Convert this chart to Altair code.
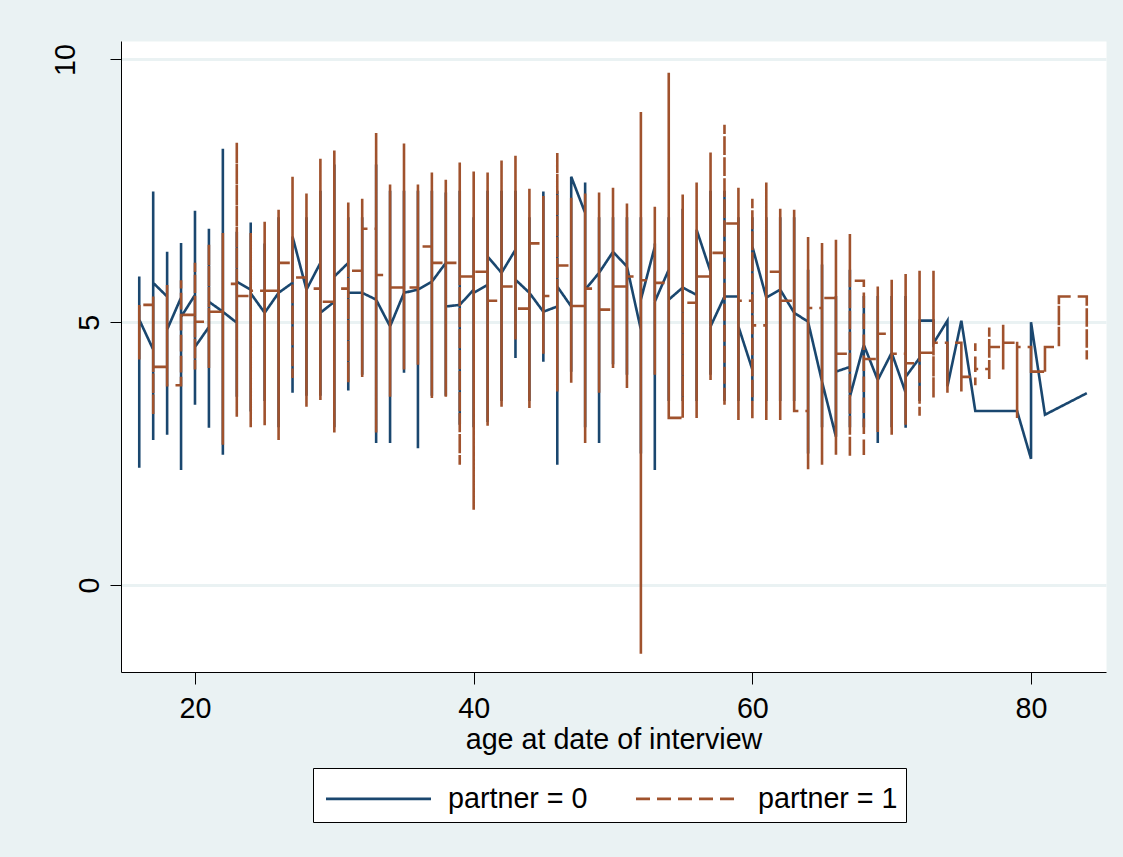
import altair as alt
import pandas as pd

# ---------------- data ----------------
# partner = 0 (solid navy line, straight connections)
ages0 = [16, 17, 18, 19, 20, 21, 22, 23, 24, 25, 26, 27, 28, 29, 30, 31, 32, 33, 34, 35,
         36, 37, 38, 39, 40, 41, 42, 43, 44, 45, 46, 47, 48, 49, 50, 51, 52, 53, 54, 55,
         56, 57, 58, 59, 60, 61, 62, 63, 64, 65, 66, 67, 68, 69, 70, 71, 72, 73, 74, 75,
         76, 77, 78, 79, 80, 81, 84]
b_first = [5.05, 4.48, 5.49, 5.47, 5.52, 4.91, 5.20, 4.99, 5.62, 5.18, 5.56, 5.75, 5.62, 6.13, 5.39, 6.13, 5.56, 5.43, 4.92, 5.56,
           5.62, 5.77, 6.13, 5.33, 5.62, 5.71, 5.94, 6.38, 5.56, 5.20, 5.30, 5.30, 7.08, 5.94, 6.34, 6.06, 4.86, 6.44, 6.00, 5.66,
           5.52, 5.96, 5.49, 5.49, 4.10, 5.47, 5.62, 5.18, 5.01, 3.87, 2.82, 4.15, 4.57, 3.90, 4.42, 3.66, 4.32, 5.03, 5.03, 5.03,
           3.31, 3.31, 3.31, 3.31, 2.40, 3.24, 3.65]
b_lo = [2.23, 2.76, 2.86, 2.19, 3.43, 2.99, 2.48, 3.58, 3.30, 3.50, 3.00, 3.66, 3.60, 3.60, 3.00, 3.70, 4.00, 2.70, 2.70, 4.04,
        2.60, 3.60, 3.60, 3.05, 3.00, 3.10, 3.50, 4.32, 3.50, 4.25, 2.29, 4.06, 3.00, 2.70, 4.20, 4.00, 2.50, 2.19, 3.50, 3.50,
        3.50, 4.00, 3.50, 3.50, 3.50, 3.50, 3.50, 3.50, 2.50, 3.00, 2.82, 3.00, 3.00, 2.70, 3.00, 2.99, 3.50, 4.60, 3.78, 5.03,
        3.31, 3.31, 3.31, 3.31, 2.40, 3.24, 3.65]
b_hi = [5.87, 7.49, 6.34, 6.51, 7.12, 6.78, 8.30, 6.72, 6.90, 6.50, 7.00, 6.63, 7.00, 7.50, 8.00, 7.00, 7.00, 8.00, 7.50, 7.50,
        7.50, 7.50, 7.47, 7.50, 7.00, 7.50, 7.50, 7.50, 7.00, 7.49, 7.50, 7.77, 7.66, 7.00, 7.00, 7.00, 7.00, 6.50, 7.00, 7.16,
        6.76, 7.50, 7.50, 7.00, 7.00, 7.00, 7.00, 7.00, 6.00, 6.10, 5.50, 6.00, 5.50, 5.50, 5.50, 5.50, 5.03, 5.03, 5.03, 5.03,
        3.31, 3.31, 3.31, 3.31, 5.00, 3.24, 3.65]
b_last = [5.05, 5.75, 4.86, 5.10, 4.53, 5.39, 5.20, 5.77, 5.55, 5.18, 5.56, 6.63, 5.62, 5.18, 5.87, 5.56, 5.56, 5.43, 4.92, 5.56,
          5.62, 5.77, 5.30, 5.33, 5.56, 6.25, 5.94, 5.81, 5.56, 5.20, 5.68, 7.77, 5.62, 5.94, 6.34, 6.06, 5.43, 5.39, 5.43, 5.66,
          6.76, 4.92, 5.49, 4.92, 6.44, 5.47, 5.62, 5.18, 5.01, 3.87, 4.06, 3.58, 4.57, 3.90, 4.42, 3.96, 5.03, 4.60, 3.78, 5.03,
          3.31, 3.31, 3.31, 3.31, 5.00, 3.24, 3.65]

# partner = 1 (dashed sienna line, stairstep connections)
ages1 = [16, 17, 18, 19, 20, 21, 22, 23, 24, 25, 26, 27, 28, 29, 30, 31, 32, 33, 34, 35,
         36, 37, 38, 39, 40, 41, 42, 43, 44, 45, 46, 47, 48, 49, 50, 51, 52, 53, 54, 55,
         56, 57, 58, 59, 60, 61, 62, 63, 64, 65, 66, 67, 68, 69, 70, 71, 72, 73, 74, 75,
         76, 77, 78, 79, 80, 81, 82, 84]
o_lo = [4.29, 3.24, 3.80, 3.80, 4.10, 4.13, 2.67, 3.20, 3.00, 3.04, 2.76, 3.94, 3.39, 3.52, 2.90, 3.85, 3.96, 2.90, 3.58, 4.10,
        4.19, 3.56, 3.58, 2.29, 1.43, 3.03, 3.39, 4.67, 3.37, 4.40, 3.68, 3.85, 2.70, 3.66, 4.13, 3.75, -1.31, 4.00, 3.18, 3.18,
        3.18, 3.90, 3.39, 3.14, 3.14, 3.14, 3.14, 3.30, 2.20, 2.29, 2.48, 2.44, 2.42, 2.91, 2.86, 3.05, 3.22, 3.56, 3.66, 3.68,
        3.80, 3.90, 4.10, 3.18, 4.06, 4.06, 4.53, 4.29]
o_hi = [5.33, 5.49, 5.71, 5.80, 6.13, 6.48, 6.70, 8.42, 6.70, 6.91, 7.14, 7.77, 7.45, 8.11, 8.27, 7.28, 7.35, 8.60, 7.62, 8.40,
        7.62, 7.85, 7.71, 8.04, 7.87, 7.85, 8.08, 8.17, 7.54, 7.40, 8.23, 7.37, 7.45, 7.47, 7.56, 7.26, 9.00, 7.20, 9.75, 7.43,
        7.66, 8.23, 8.76, 7.56, 7.35, 7.66, 7.16, 7.14, 6.62, 6.51, 6.57, 6.68, 5.81, 5.68, 5.81, 5.92, 5.98, 5.98, 4.61, 4.61,
        4.60, 4.90, 4.95, 4.63, 4.53, 4.53, 5.49, 5.49]
o_last = [5.33, 4.15, 3.80, 5.14, 5.01, 5.20, 5.73, 5.50, 5.60, 5.60, 6.13, 5.85, 5.64, 5.39, 5.64, 5.98, 6.78, 5.90, 5.66, 5.66,
          6.44, 6.13, 6.13, 5.87, 5.96, 5.41, 5.68, 5.26, 6.50, 5.50, 6.08, 5.31, 5.64, 5.24, 5.68, 5.87, 5.80, 5.75, 3.18, 5.37,
          5.87, 6.32, 6.88, 5.41, 4.94, 5.96, 5.41, 3.31, 5.27, 5.46, 4.40, 5.79, 4.30, 4.78, 4.40, 4.22, 4.42, 4.61, 4.61, 3.96,
          4.11, 4.53, 4.61, 4.53, 4.06, 4.53, 5.49, 4.29]

series_names = ["partner = 0", "partner = 1"]
series_colors = ["#1a476f", "#a0522d"]
x_ticks = [20, 40, 60, 80]
y_ticks = [0, 5, 10]

# ---------------- build the path table ----------------
rows = []
i = 0
for a, f, lo, hi, la in zip(ages0, b_first, b_lo, b_hi, b_last):
    for v in (f, lo, hi, la):
        rows.append({"age": a, "value": v, "series": series_names[0], "idx": i})
        i += 1
for a, lo, hi, la in zip(ages1, o_lo, o_hi, o_last):
    for v in (lo, hi, lo, hi, la):
        rows.append({"age": a, "value": v, "series": series_names[1], "idx": i})
        i += 1
df = pd.DataFrame(rows)

FONT = "Liberation Sans"
FS = 28.7

# wide, flat legend key: a horizontal stroke 5 units long in a 1-unit symbol box
legend = alt.Legend(
    title=None, orient="none", legendX=192, legendY=727, direction="horizontal", columns=2,
    symbolType="M-2.5,0H2.5", symbolSize=1764, symbolStrokeWidth=2.6, symbolOffset=35,
    labelFontSize=FS, labelFont=FONT, labelColor="black", labelOffset=47, labelLimit=400,
    columnPadding=42, padding=8, fillColor="white", strokeColor="black",
)

base = alt.Chart(df).encode(
    x=alt.X("age:Q",
            scale=alt.Scale(domain=[14.69, 85.38], nice=False, zero=False),
            axis=alt.Axis(values=x_ticks, grid=False, title="age at date of interview",
                          domainColor="black", domainWidth=1, tickColor="black", tickSize=12,
                          tickWidth=1, labelFontSize=FS, labelFont=FONT, labelColor="black",
                          labelBaseline="alphabetic", labelPadding=33, labelFlush=False,
                          titleFontSize=FS, titleFont=FONT, titleColor="black",
                          titleFontWeight="normal", titleBaseline="alphabetic", titleY=76.5)),
    y=alt.Y("value:Q",
            scale=alt.Scale(domain=[-1.656, 10.352], nice=False, zero=False),
            axis=alt.Axis(values=y_ticks, title=None, grid=True, gridColor="#eaf2f3", gridWidth=3,
                          domainColor="black", domainWidth=1, tickColor="black", tickSize=11,
                          tickWidth=1, labelFontSize=FS, labelFont=FONT, labelColor="black",
                          labelAngle=270, labelAlign="center", labelBaseline="alphabetic",
                          labelFlush=False,
                          labelPadding={"condition": {"test": "datum.value == 10", "value": 36},
                                        "value": 12})),
    color=alt.Color("series:N", scale=alt.Scale(domain=series_names, range=series_colors),
                    legend=legend),
    strokeDash=alt.StrokeDash("series:N",
                              scale=alt.Scale(domain=series_names, range=[[1, 0], [14, 7]]),
                              legend=legend),
    order=alt.Order("idx:Q"),
)

blue = base.transform_filter(alt.datum.series == series_names[0]).mark_line(
    interpolate="linear", strokeWidth=2.6)
orange = base.transform_filter(alt.datum.series == series_names[1]).mark_line(
    interpolate="step-after", strokeWidth=2.6)

chart = alt.layer(blue, orange).properties(
    width=985, height=631,
    autosize=alt.AutoSizeParams(type="none"),
    padding={"left": 121, "top": 41, "right": 17, "bottom": 185},
    background="#eaf2f3",
).configure(font=FONT).configure_view(fill="white", stroke="transparent")

chart.save("out.html", embed_options={"renderer": "svg", "actions": False})
